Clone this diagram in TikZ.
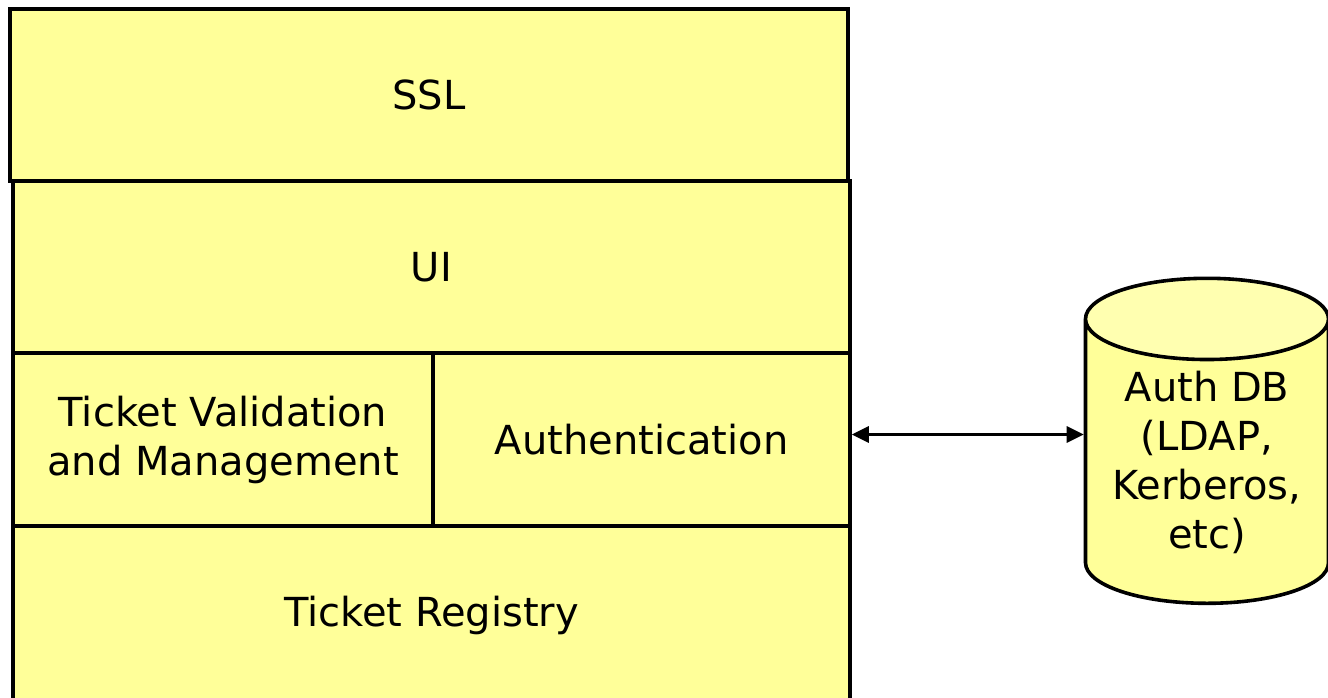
\documentclass[tikz,border=0pt]{standalone}
\usepackage{fontspec}
\setmainfont{DejaVu Sans}
\usetikzlibrary{shapes,arrows.meta}

\definecolor{padyellow}{RGB}{255,255,153}
\definecolor{lidyellow}{RGB}{255,255,176}

\begin{document}
\begin{tikzpicture}[x=0.5pt,y=-0.5pt]
\tikzstyle{layer}=[rectangle,draw=black,line width=1.8pt,fill=padyellow,inner sep=0pt,align=center,font=\fontsize{20}{24.5}\selectfont]
\tikzstyle{store}=[cylinder,shape border rotate=90,draw=black,line width=1.8pt,cylinder uses custom fill,cylinder body fill=padyellow,cylinder end fill=lidyellow,aspect=0.43,inner sep=0pt,align=center,font=\fontsize{20}{24.5}\selectfont]
\clip (0,0) rectangle (1328,697);

\node[layer,minimum width=419pt,minimum height=86pt](SSL) at (429,95) {SSL};
\node[layer,minimum width=418.5pt,minimum height=86pt](UI) at (431.5,267) {UI};
\node[layer,minimum width=210pt,minimum height=86.5pt](TVM) at (223,439.5) {Ticket Validation\\and Management};
\node[layer,minimum width=208.5pt,minimum height=86.5pt](AUTH) at (641.5,439.5) {Authentication};
\node[layer,minimum width=418.5pt,minimum height=89pt](REG) at (431.5,615) {Ticket Registry};
\node[store,minimum width=121.5pt,minimum height=162.5pt](DB) at (1207,462) {Auth DB\\(LDAP,\\Kerberos,\\etc)};

\draw[{Triangle[length=8.5pt,width=8pt]}-{Triangle[length=8.5pt,width=8pt]},line width=1.5pt] ([yshift=2.5pt]AUTH.east) -- ([yshift=2.5pt]AUTH.east -| DB.west);
\end{tikzpicture}
\end{document}
